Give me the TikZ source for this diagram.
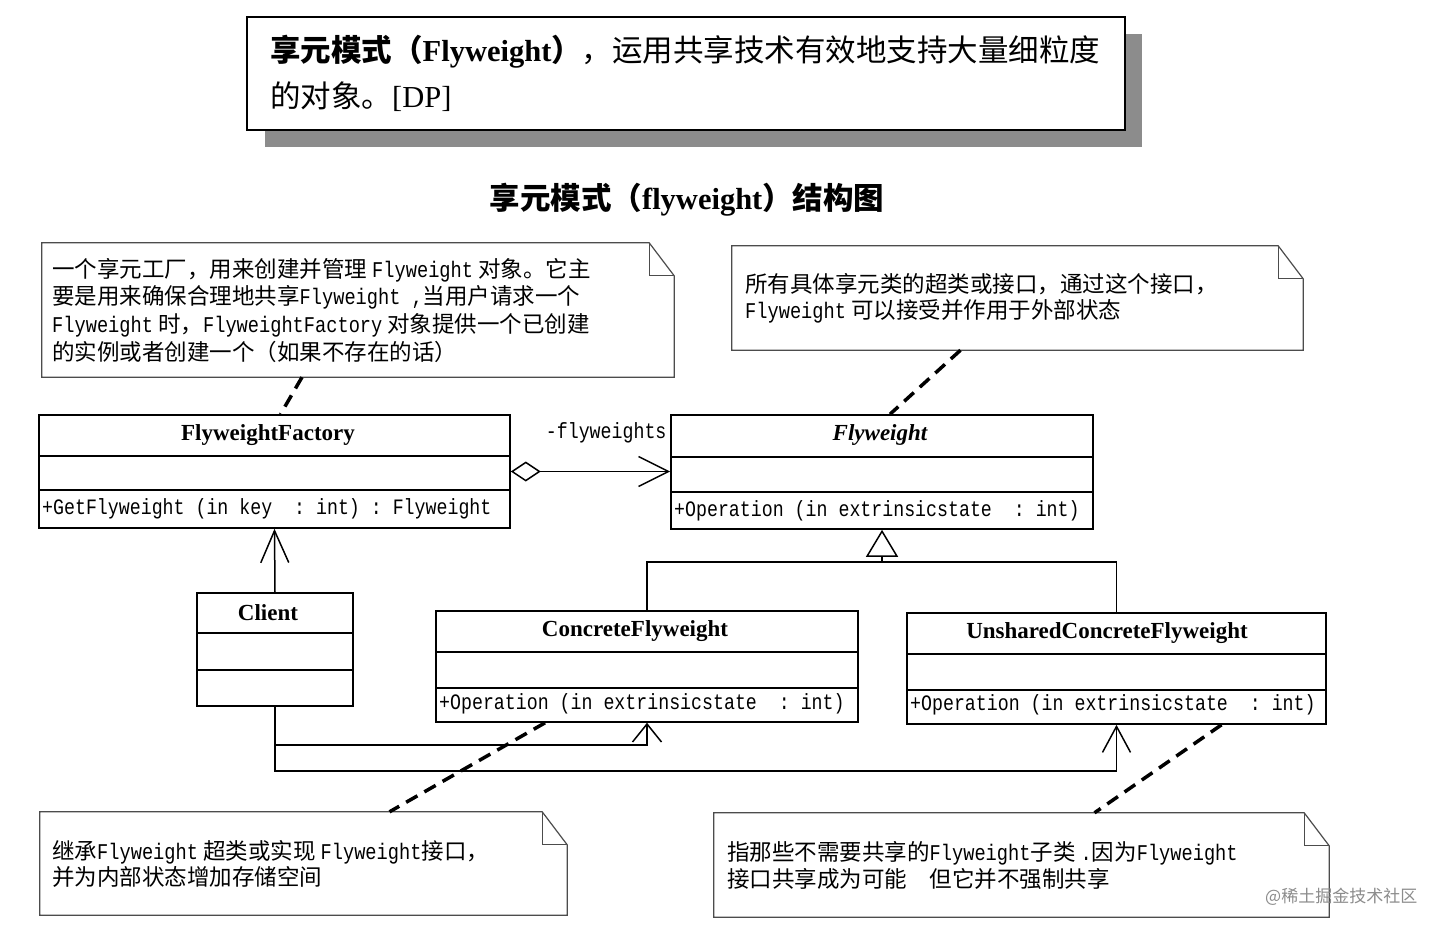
\documentclass[tikz,border=0pt]{standalone}
\usepackage{fontspec}
\setmainfont{Liberation Serif}
\newfontfamily\cjk{Noto Sans CJK SC}
\newfontfamily\mo[FakeStretch=0.83]{Liberation Mono}
\usetikzlibrary{arrows.meta,calc}
\tikzset{
  cls/.style={draw, line width=1.6pt, fill=white, inner sep=0pt},
  sep/.style={line width=1.6pt},
  cname/.style={inner sep=0pt, font=\fontsize{23}{26}\selectfont\bfseries},
  cop/.style={anchor=west, inner sep=0pt, font=\fontsize{22}{25}\mo},
  ntext/.style={anchor=west, inner sep=0pt, font=\fontsize{22.5}{27}\cjk},
  noteline/.style={line width=1.2pt, draw=black!70},
  notebox/.style={draw=none, inner sep=0pt},
  conn/.style={line width=1.5pt},
  notedash/.style={line width=3.5pt, dash pattern=on 13pt off 8pt},
}
\newcommand{\Mo}[1]{{\mo #1}}
\newcommand{\dogear}[1]{%
  \draw[noteline, fill=white] (#1.north west) -- ([xshift=-25pt]#1.north east) -- ([yshift=-33pt]#1.north east) -- (#1.south east) -- (#1.south west) -- cycle;
  \draw[noteline] ([xshift=-25pt]#1.north east) |- ([yshift=-33pt]#1.north east);}
\begin{document}
\begin{tikzpicture}[x=1pt,y=-1pt]
\useasboundingbox (0,0) rectangle (1452,932);
\fill[white] (0,0) rectangle (1452,932);

% header box
\fill[black!45] (265,34) rectangle (1142,147);
\node[draw, line width=1.8pt, fill=white, minimum width=878pt, minimum height=113pt, inner sep=0pt] (hd) at (686,73.5) {};
\node[anchor=west, inner sep=0pt, font=\fontsize{30.5}{34}\selectfont] (hd1) at (270,52)
  {{\cjk\bfseries 享元模式（}{\bfseries Flyweight}{\cjk\bfseries ）}{\cjk ，运用共享技术有效地支持大量细粒度}};
\node[anchor=west, inner sep=0pt, font=\fontsize{30.5}{34}\selectfont] (hd2) at (270,97)
  {{\cjk 的对象。}[DP]};

% title
\node[inner sep=0pt, font=\fontsize{30.5}{34}\selectfont\bfseries] (title) at (687,200)
  {{\cjk 享元模式（}flyweight{\cjk ）结构图}};

% notes
\node[notebox, minimum width=632pt, minimum height=134pt] (n1) at (358,310) {};
\dogear{n1}
\node[ntext] (n1a) at (52,270) {一个享元工厂，用来创建并管理 \Mo{Flyweight} 对象。它主};
\node[ntext] (n1b) at (52,297) {要是用来确保合理地共享\Mo{Flyweight ,}当用户请求一个};
\node[ntext] (n1c) at (52,325) {\Mo{Flyweight} 时，\Mo{FlyweightFactory} 对象提供一个已创建};
\node[ntext] (n1d) at (52,352) {的实例或者创建一个（如果不存在的话）};

\node[notebox, minimum width=571pt, minimum height=104pt] (n2) at (1017.5,298) {};
\dogear{n2}
\node[ntext] (n2a) at (745,284) {所有具体享元类的超类或接口，通过这个接口，};
\node[ntext] (n2b) at (745,311) {\Mo{Flyweight} 可以接受并作用于外部状态};

\node[notebox, minimum width=527pt, minimum height=103pt] (n3) at (303.5,863.5) {};
\dogear{n3}
\node[ntext] (n3a) at (52,852) {继承\Mo{Flyweight} 超类或实现 \Mo{Flyweight}接口，};
\node[ntext] (n3b) at (52,877) {并为内部状态增加存储空间};

\node[notebox, minimum width=615pt, minimum height=104pt] (n4) at (1021.5,865) {};
\dogear{n4}
\node[ntext] (n4a) at (727,853) {指那些不需要共享的\Mo{Flyweight}子类 \Mo{.}因为\Mo{Flyweight}};
\node[ntext] (n4b) at (727,879) {接口共享成为可能　但它并不强制共享};

\node[anchor=west, inner sep=0pt, text=black!45, font=\fontsize{17}{20}\cjk] (wm) at (1265,897) {@稀土掘金技术社区};

% classes
\node[cls, minimum width=471pt, minimum height=113pt] (ff) at (274.5,471.5) {};
\draw[sep] (39,456) -- (510,456);
\draw[sep] (39,490) -- (510,490);
\node[cname] (ffn) at (268,435) {FlyweightFactory};
\node[cop] (ffo) at (42,509) {+GetFlyweight~(in~key~~:~int)~:~Flyweight};

\node[cls, minimum width=422pt, minimum height=114pt] (fw) at (882,472) {};
\draw[sep] (671,457) -- (1093,457);
\draw[sep] (671,492) -- (1093,492);
\node[cname, font=\fontsize{23}{26}\selectfont\bfseries\itshape] (fwn) at (880,435) {Flyweight};
\node[cop] (fwo) at (674,511) {+Operation~(in~extrinsicstate~~:~int)};

\node[cls, minimum width=156pt, minimum height=113pt] (cl) at (275,649.5) {};
\draw[sep] (197,633) -- (353,633);
\draw[sep] (197,670) -- (353,670);
\node[cname] (cln) at (268,613) {Client};

\node[cls, minimum width=422pt, minimum height=111pt] (cf) at (647,666.5) {};
\draw[sep] (436,652) -- (858,652);
\draw[sep] (436,688) -- (858,688);
\node[cname] (cfn) at (635,631) {ConcreteFlyweight};
\node[cop] (cfo) at (439,704) {+Operation~(in~extrinsicstate~~:~int)};

\node[cls, minimum width=419pt, minimum height=111pt] (ucf) at (1116.5,668.5) {};
\draw[sep] (907,654) -- (1326,654);
\draw[sep] (907,690) -- (1326,690);
\node[cname] (ucfn) at (1107,633) {UnsharedConcreteFlyweight};
\node[cop] (ucfo) at (910,705) {+Operation~(in~extrinsicstate~~:~int)};

% connectors
\draw[conn, {Diamond[open,length=30pt,width=20pt]}-{Straight Barb[length=30pt,width=30pt]}]
  (ff.east) -- node[pos=1, anchor=east, yshift=39pt, xshift=-3pt, inner sep=0pt, font=\fontsize{22}{25}\mo] {-flyweights} (ff.east -| fw.west);

\coordinate (gj) at (882,562);
\draw[conn] (cf.north) |- (gj);
\draw[conn] (ucf.north) |- (gj);
\draw[conn, -{Triangle[open,length=27pt,width=32pt]}] (gj) -- (fw.south);

\draw[conn, -{Straight Barb[length=32pt,width=28pt]}] (cl.north) -- (ff.south);
\coordinate (c1) at (647,745);
\coordinate (c2) at (1116.5,771);
\draw[conn, -{Straight Barb[length=18pt,width=29pt]}] (cl.south) |- (c1) -- (cf.south);
\draw[conn, -{Straight Barb[length=26pt,width=28pt]}] (cl.south) |- (c2) -- (ucf.south);

% note anchors
\draw[notedash] ([xshift=-56pt]n1.south) -- ([xshift=6pt]ff.north);
\draw[notedash] ([xshift=-57pt]n2.south) -- ([xshift=8pt]fw.north);
\draw[notedash] ([xshift=-102pt]cf.south) -- ([xshift=86pt]n3.north);
\draw[notedash] ([xshift=105pt]ucf.south) -- ([xshift=73pt]n4.north);
\end{tikzpicture}
\end{document}
